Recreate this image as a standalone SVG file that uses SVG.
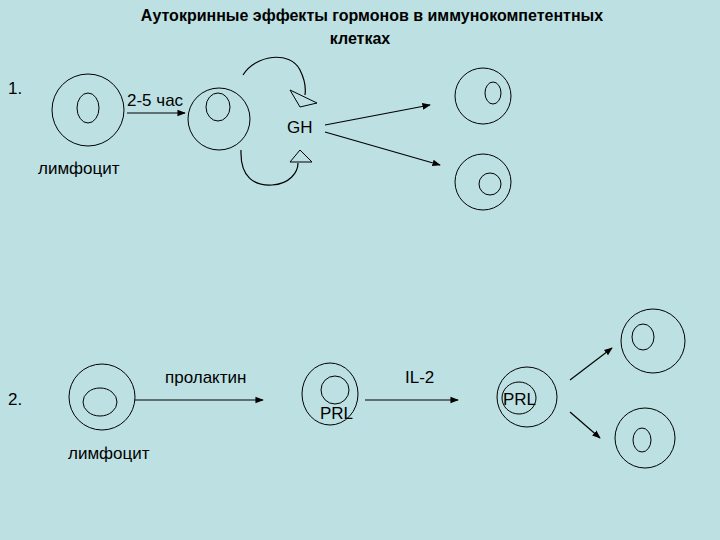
<svg xmlns="http://www.w3.org/2000/svg" width="720" height="540" viewBox="0 0 720 540">
<defs>
<style>
.c{fill:none;stroke:#000;stroke-width:1}
.l{fill:none;stroke:#000;stroke-width:1.2}
.t{font-family:"Liberation Sans",Arial,sans-serif;font-size:17px;fill:#000}
.h{font-family:"Liberation Sans",Arial,sans-serif;font-size:16px;font-weight:bold;fill:#000;text-anchor:middle}
</style>
<marker id="a" viewBox="0 0 10 10" refX="9" refY="5" markerWidth="7" markerHeight="7" orient="auto"><path d="M0,1 L10,5 L0,9 Z" fill="#000"/></marker>
</defs>
<rect width="720" height="540" fill="#bde0e3"/>
<text class="h" x="372" y="21">Аутокринные эффекты гормонов в иммунокомпетентных</text>
<text class="h" x="360" y="44">клетках</text>
<text class="t" x="8" y="94" font-size="18">1.</text>
<text class="t" x="8" y="405">2.</text>
<g id="cell1"><circle class="c" cx="88" cy="110" r="36"/><ellipse class="c" cx="88" cy="108" rx="11" ry="15"/></g>
<g id="cell2"><circle class="c" cx="219" cy="119" r="31"/><ellipse class="c" cx="218" cy="107" rx="12" ry="14"/></g>
<g id="cell3"><circle class="c" cx="483" cy="96" r="28"/><ellipse class="c" cx="493" cy="93" rx="8" ry="11"/></g>
<g id="cell4"><circle class="c" cx="483" cy="182" r="28"/><circle class="c" cx="490" cy="184" r="11"/></g>
<g id="cell5"><circle class="c" cx="102" cy="397" r="33"/><ellipse class="c" cx="100" cy="402" rx="17" ry="14"/></g>
<g id="cell6"><ellipse class="c" cx="330" cy="394" rx="28" ry="31"/><circle class="c" cx="335" cy="390" r="14"/></g>
<g id="cell7"><ellipse class="c" cx="527" cy="397" rx="30" ry="30"/><ellipse class="c" cx="519" cy="398" rx="17" ry="16"/></g>
<g id="cell8"><circle class="c" cx="653" cy="341" r="32"/><ellipse class="c" cx="643" cy="337" rx="11" ry="13"/></g>
<g id="cell9"><circle class="c" cx="645" cy="438" r="30"/><ellipse class="c" cx="642" cy="440" rx="9" ry="12"/></g>
<text class="t" x="127" y="106">2-5 час</text>
<text class="t" x="287" y="133">GH</text>
<text class="t" x="38" y="174">лимфоцит</text>
<text class="t" x="165" y="383">пролактин</text>
<text class="t" x="68" y="459">лимфоцит</text>
<text class="t" x="405" y="383">IL-2</text>
<text class="t" x="320" y="419">PRL</text>
<text class="t" x="503" y="405">PRL</text>
<g id="connectors">
<line class="l" x1="127" y1="113" x2="185" y2="113" marker-end="url(#a)"/>
<path class="l" d="M243,75 C255,55 290,50 300,70 C305,80 306,88 305,95"/>
<path class="c" d="M290,90 L317,103 L300,107 Z"/>
<path class="l" d="M241,150 C240,178 255,186 272,185 C290,184 298,172 298,163"/>
<path class="c" d="M290,162 L300,150 L312,162 Z"/>
<line class="l" x1="325" y1="125" x2="430" y2="105" marker-end="url(#a)"/>
<line class="l" x1="325" y1="132" x2="440" y2="165" marker-end="url(#a)"/>
<line class="l" x1="135" y1="400" x2="263" y2="400" marker-end="url(#a)"/>
<line class="l" x1="365" y1="400" x2="458" y2="400" marker-end="url(#a)"/>
<line class="l" x1="570" y1="380" x2="612" y2="348" marker-end="url(#a)"/>
<line class="l" x1="570" y1="412" x2="600" y2="438" marker-end="url(#a)"/>
</g>
</svg>
